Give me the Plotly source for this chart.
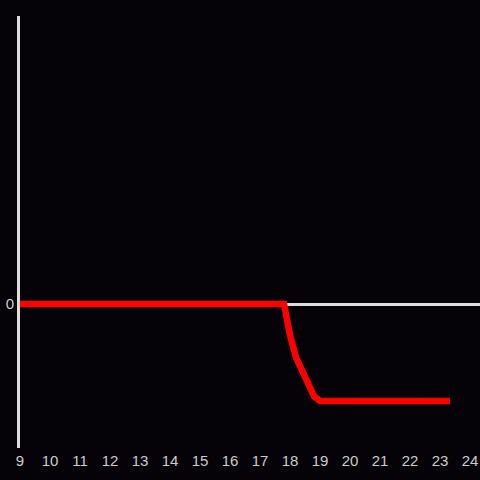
import plotly.graph_objects as go

x_vals = [9, 10, 11, 12, 13, 14, 15, 16, 17, 17.8, 18.0, 18.2, 18.8, 19.0, 20, 21, 22, 23, 23.33]
y_vals = [0, 0, 0, 0, 0, 0, 0, 0, 0, 0, -0.32, -0.55, -0.95, -1.0, -1.0, -1.0, -1.0, -1.0, -1.0]
x_ticks = list(range(9, 25))

fig = go.Figure()
fig.add_trace(go.Scatter(x=x_vals, y=y_vals, mode="lines",
                         line=dict(color="#ff0000", width=6.5), hoverinfo="skip"))
fig.update_layout(
    width=480, height=480,
    paper_bgcolor="#050308", plot_bgcolor="#050308",
    margin=dict(l=20, r=0, t=16, b=32),
    showlegend=False,
    font=dict(family="Liberation Sans, Arial, sans-serif", size=15, color="#cccccc"),
)
fig.update_xaxes(range=[9, 24.333], tickvals=x_ticks, showgrid=False, zeroline=False,
                 showline=False, ticks="", ticklabelstandoff=2,
                 tickfont=dict(color="#cccccc", size=15))
fig.update_yaxes(range=[-1.485, 2.97], tickvals=[0], showgrid=False, zeroline=True,
                 zerolinecolor="#dddddd", zerolinewidth=3, showline=True,
                 linecolor="#dddddd", linewidth=3, ticks="",
                 tickfont=dict(color="#cccccc", size=15))
fig.write_html("out.html", config={"displayModeBar": False},
               post_script="document.body.style.margin='0';document.body.style.background='#050308';")
